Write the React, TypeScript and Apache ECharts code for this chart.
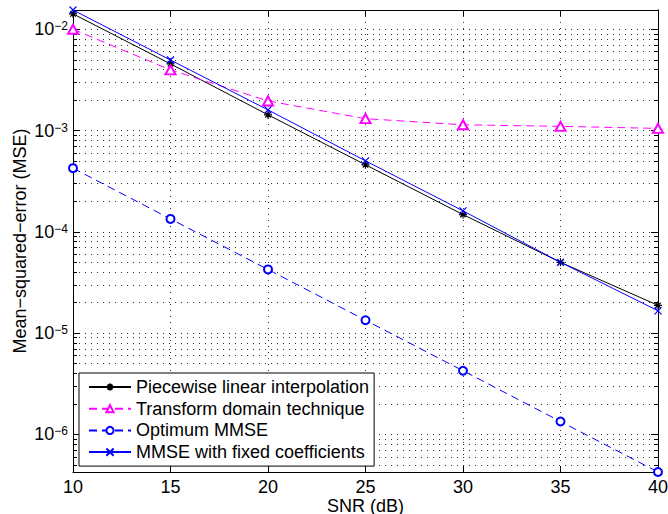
import React, { useEffect, useRef } from "react";
import * as echarts from "echarts";

const snr = [10, 15, 20, 25, 30, 35, 40];
const piecewise = [1.42e-2, 4.55e-3, 1.43e-3, 4.59e-4, 1.48e-4, 5.0e-5, 1.88e-5];
const transformDomain = [1.0e-2, 3.97e-3, 1.96e-3, 1.31e-3, 1.14e-3, 1.1e-3, 1.05e-3];
const optimum = [4.25e-4, 1.34e-4, 4.25e-5, 1.34e-5, 4.25e-6, 1.34e-6, 4.25e-7];
const fixedCoef = [1.55e-2, 4.97e-3, 1.6e-3, 5.02e-4, 1.61e-4, 5.0e-5, 1.66e-5];

const seriesNames = [
  "Piecewise linear interpolation",
  "Transform domain technique",
  "Optimum MMSE",
  "MMSE with fixed coefficients",
];

const xTicks = [10, 15, 20, 25, 30, 35, 40];
const yMajorTicks = [1e-6, 1e-5, 1e-4, 1e-3, 1e-2];
const yMinorMultipliers = [2, 3, 4, 5, 6, 7, 8, 9];
const yMin = 4.25e-7;
const yMax = 1.55e-2;

const yMinorTicks: number[] = [];
[1e-7, 1e-6, 1e-5, 1e-4, 1e-3, 1e-2].forEach((d) =>
  yMinorMultipliers.forEach((k) => {
    const v = k * d;
    if (v > yMin && v < yMax) yMinorTicks.push(v);
  })
);

const FONT = "'Liberation Sans', Arial, Helvetica, sans-serif";
const ASTERISK = "path://M5 0L5 10M0 5L10 5M1.6 1.6L8.4 8.4M8.4 1.6L1.6 8.4";
const CROSS = "path://M0 0L10 10M10 0L0 10";
const GRID_LINE = { color: "#333", width: 1, type: [1, 5] as number[] };

export default function App() {
  const ref = useRef<HTMLDivElement>(null);
  useEffect(() => {
    if (!ref.current) return;
    const chart = echarts.init(ref.current, null, { renderer: "svg" });

    const yAxisBase = {
      type: "log" as const,
      logBase: 10,
      min: yMin,
      max: yMax,
      axisLine: { show: true, lineStyle: { color: "#000", width: 1 } },
    };

    const supFormatter = (v: number) => {
      const e = Math.round(Math.log10(v));
      return "{b|10}{s|" + (e < 0 ? "\u2212" : "") + Math.abs(e) + "}";
    };

    chart.setOption({
      animation: false,
      backgroundColor: "#fff",
      textStyle: { fontFamily: FONT },
      grid: {
        left: 73,
        right: 10,
        top: 10,
        bottom: 42,
        containLabel: false,
        outerBoundsMode: "none",
      },
      xAxis: [
        {
          type: "value",
          min: 10,
          max: 40,
          interval: 5,
          position: "bottom",
          name: "SNR (dB)",
          nameLocation: "middle",
          nameGap: 25,
          nameMoveOverlap: false,
          nameTextStyle: { fontSize: 18, color: "#000", fontFamily: FONT },
          axisLine: { show: true, lineStyle: { color: "#000", width: 1 } },
          axisTick: { show: true, inside: true, length: 6, lineStyle: { color: "#000" } },
          axisLabel: {
            show: true,
            fontSize: 18,
            color: "#000",
            margin: 6,
            fontFamily: FONT,
            customValues: xTicks,
          },
          splitLine: { show: true, lineStyle: GRID_LINE },
        },
        {
          type: "value",
          min: 10,
          max: 40,
          interval: 5,
          position: "top",
          axisLine: { show: true, lineStyle: { color: "#000", width: 1 } },
          axisTick: { show: true, inside: true, length: 6, lineStyle: { color: "#000" } },
          axisLabel: { show: false },
          splitLine: { show: false },
        },
      ],
      yAxis: [
        {
          ...yAxisBase,
          position: "left",
          name: "Mean\u2212squared\u2212error (MSE)",
          nameLocation: "middle",
          nameGap: 44,
          nameMoveOverlap: false,
          nameRotate: 90,
          nameTextStyle: { fontSize: 18, color: "#000", fontFamily: FONT },
          axisTick: {
            show: true,
            inside: true,
            length: 7,
            customValues: yMajorTicks,
            lineStyle: { color: "#000" },
          },
          axisLabel: {
            show: true,
            customValues: yMajorTicks,
            margin: 5,
            color: "#000",
            fontFamily: FONT,
            formatter: supFormatter,
            rich: {
              b: { fontSize: 18, lineHeight: 18, verticalAlign: "bottom", color: "#000", fontFamily: FONT },
              s: { fontSize: 12, lineHeight: 8, verticalAlign: "top", color: "#000", fontFamily: FONT },
            },
            fontSize: 18,
            lineHeight: 21,
          },
          splitLine: { show: true, lineStyle: GRID_LINE },
        },
        {
          ...yAxisBase,
          position: "left",
          axisTick: {
            show: true,
            inside: true,
            length: 4,
            customValues: yMinorTicks,
            lineStyle: { color: "#000" },
          },
          axisLabel: { show: false },
          splitLine: { show: true, lineStyle: GRID_LINE },
        },
        {
          ...yAxisBase,
          position: "right",
          axisTick: {
            show: true,
            inside: true,
            length: 7,
            customValues: yMajorTicks,
            lineStyle: { color: "#000" },
          },
          axisLabel: { show: false },
          splitLine: { show: false },
        },
        {
          ...yAxisBase,
          position: "right",
          axisTick: {
            show: true,
            inside: true,
            length: 4,
            customValues: yMinorTicks,
            lineStyle: { color: "#000" },
          },
          axisLabel: { show: false },
          splitLine: { show: false },
        },
      ],
      legend: {
        orient: "vertical",
        left: 79,
        top: 373,
        padding: [5, 5, 5, 9],
        itemWidth: 42,
        itemHeight: 9,
        itemGap: 3.7,
        borderColor: "#000",
        borderWidth: 1,
        borderRadius: 0,
        backgroundColor: "#fff",
        textStyle: { fontSize: 18, lineHeight: 18, color: "#000", fontFamily: FONT, padding: [0, 0, 0, 0] },
        data: seriesNames,
      },
      series: [
        {
          name: seriesNames[0],
          type: "line",
          data: snr.map((x, i) => [x, piecewise[i]]),
          symbol: ASTERISK,
          symbolSize: 8,
          lineStyle: { color: "#000", width: 1, type: "solid" },
          itemStyle: { color: "#000", borderColor: "#000", borderWidth: 1.2 },
          z: 3,
        },
        {
          name: seriesNames[1],
          type: "line",
          data: snr.map((x, i) => [x, transformDomain[i]]),
          symbol: "emptyTriangle",
          symbolSize: [10, 9],
          lineStyle: { color: "#ff00ff", width: 1, type: [8, 5] },
          itemStyle: { color: "#ff00ff", borderColor: "#ff00ff", borderWidth: 1 },
          z: 3,
        },
        {
          name: seriesNames[2],
          type: "line",
          data: snr.map((x, i) => [x, optimum[i]]),
          symbol: "emptyCircle",
          symbolSize: 8,
          lineStyle: { color: "#0000ff", width: 1, type: [8, 5] },
          itemStyle: { color: "#0000ff", borderColor: "#0000ff", borderWidth: 1 },
          z: 3,
        },
        {
          name: seriesNames[3],
          type: "line",
          data: snr.map((x, i) => [x, fixedCoef[i]]),
          symbol: CROSS,
          symbolSize: 7,
          lineStyle: { color: "#0000ff", width: 1, type: "solid" },
          itemStyle: { color: "#0000ff", borderColor: "#0000ff", borderWidth: 1.2 },
          z: 3,
        },
      ],
    });
    return () => chart.dispose();
  }, []);

  return (
    <div
      ref={ref}
      style={{ position: "fixed", left: 0, top: 0, width: 668, height: 514, background: "#fff" }}
    />
  );
}
